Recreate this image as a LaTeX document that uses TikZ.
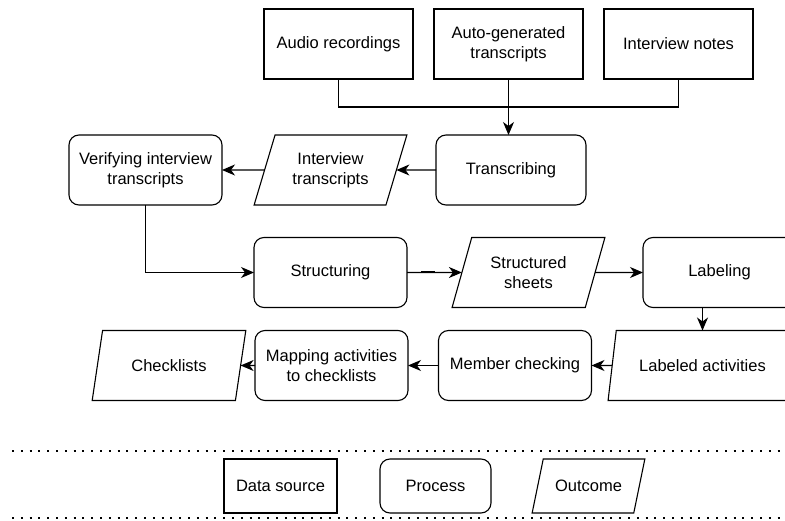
\documentclass[tikz,border=0pt]{standalone}
\usepackage{fontspec}
\setmainfont{Liberation Sans}
\usetikzlibrary{arrows.meta, shapes.geometric}

\begin{document}
\begin{tikzpicture}[x=1pt, y=-1pt, line width=1.1pt,
  srcbox/.style={draw, rectangle, minimum width=149pt, minimum height=70pt},
  procbox/.style={draw, rectangle, rounded corners=10pt, minimum width=153pt, minimum height=70pt},
  outbox/.style={draw, trapezium, trapezium left angle=69, trapezium right angle=111,
    trapezium stretches=true, minimum width=153pt, minimum height=70pt},
  flow/.style={-{Stealth[length=13pt, width=11pt, inset=4pt]}},
  dotline/.style={line width=2pt, dash pattern=on 2pt off 6.8pt}]
\clip (0,0) rectangle (785,521);
\begin{scope}[every node/.style={font=\fontsize{16.5}{20}\selectfont, align=center, inner sep=2pt, outer sep=0pt}]
\foreach \name/\x/\txt in {audio/338.5/Audio recordings, autogen/508.5/{Auto-generated\\transcripts}, notes/678.5/Interview notes} {
  \node [srcbox] (\name) at (\x,44) {\txt};
}
\node [procbox, minimum width=150pt] (transcribing) at (511,170) {Transcribing};
\node [outbox] (itrans) at (330.5,170) {Interview\\transcripts};
\node [procbox] (verify) at (145.5,170) {Verifying interview\\transcripts};
\node [procbox] (structuring) at (330.5,272.5) {Structuring};
\node [outbox] (sheets) at (528.5,272.5) {Structured\\sheets};
\node [procbox] (labeling) at (719.5,272.5) {Labeling};
\node [outbox, minimum width=189pt] (labeled) at (702.5,365.5) {Labeled activities};
\node [procbox] (member) at (515,365.5) {Member checking};
\node [procbox] (mapping) at (331.5,365.5) {Mapping activities\\to checklists};
\node [outbox, minimum width=154pt] (checklists) at (169,365.5) {Checklists};

\coordinate (join) at (508.5,107);
\draw (audio.south) |- (join) -| (notes.south);
\draw [flow] (autogen.south) -- (autogen.south |- transcribing.north);
\draw [flow] (transcribing.west) -- (itrans.east);
\draw [flow] (itrans.west) -- (verify.east);
\draw [flow] (verify.south) |- (structuring.west);
\draw [flow] (structuring.east) -- (sheets.west);
\draw [line width=2pt] ([xshift=14pt]structuring.east) -- ++(14,0);
\draw [flow] (sheets.east) -- (labeling.west);
\draw [flow] (labeled.north |- labeling.south) -- (labeled.north);
\draw [flow] (labeled.west) -- (member.east);
\draw [flow] (member.west) -- (mapping.east);
\draw [flow] (mapping.west) -- (checklists.east);

\draw [dotline] (12,451) -- (785,451);
\draw [dotline] (12,518) -- (785,518);
\node [srcbox, minimum width=113pt, minimum height=54pt] (legsrc) at (280.5,486) {Data source};
\node [procbox, minimum width=111pt, minimum height=54pt] (legproc) at (435.5,486) {Process};
\node [outbox, trapezium left angle=61, trapezium right angle=119, minimum width=113pt, minimum height=54pt] (legout) at (588.5,486) {Outcome};
\end{scope}
\end{tikzpicture}
\end{document}
